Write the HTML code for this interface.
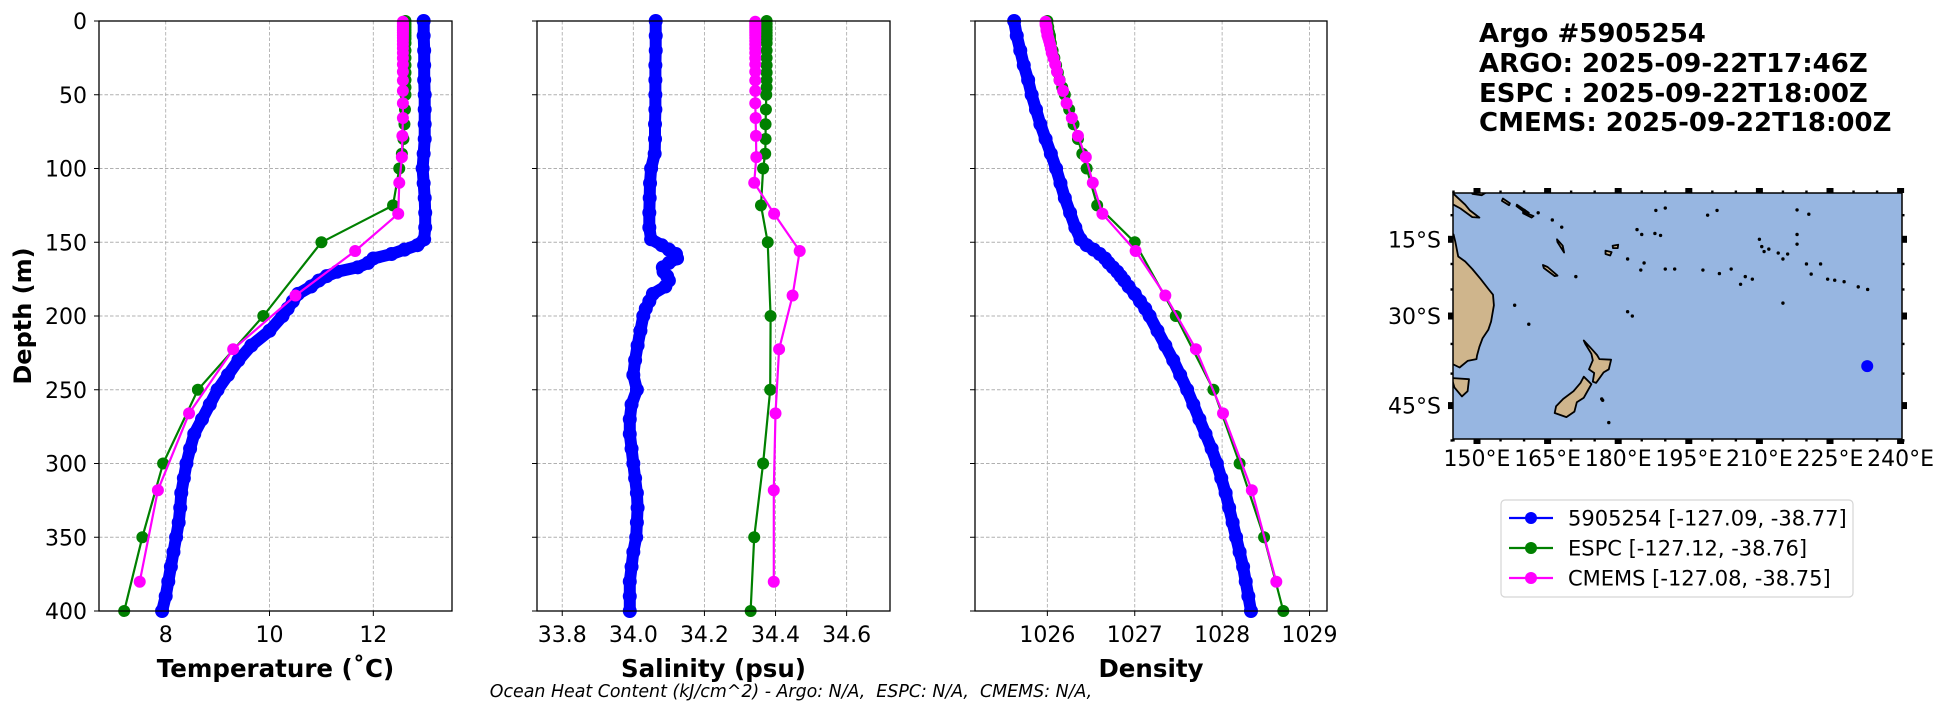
<!DOCTYPE html>
<html><head><meta charset="utf-8">
<style>
html,body{margin:0;padding:0;background:#fff;}
svg{display:block;font-family:"DejaVu Sans","Liberation Sans",sans-serif;}
</style></head>
<body>
<svg id="fig" width="1953" height="712" viewBox="0 0 1953 712" xmlns="http://www.w3.org/2000/svg">
<text x="1479" y="42" font-size="26" font-weight="bold">Argo #5905254</text>
<text x="1479" y="72" font-size="26" font-weight="bold">ARGO: 2025-09-22T17:46Z</text>
<text x="1479" y="102" font-size="26" font-weight="bold">ESPC : 2025-09-22T18:00Z</text>
<text x="1479" y="131" font-size="26" font-weight="bold">CMEMS: 2025-09-22T18:00Z</text>
<text x="791" y="697" font-size="17.4" font-style="italic" text-anchor="middle" style="white-space:pre">Ocean Heat Content (kJ/cm^2) - Argo: N/A,  ESPC: N/A,  CMEMS: N/A,</text>
<text transform="translate(31,316) rotate(-90)" font-size="24" font-weight="bold" text-anchor="middle">Depth (m)</text>
</svg>
<script>
// ---------- data ----------
const depthTicks = [0,50,100,150,200,250,300,350,400];
const tempTicks = [8,10,12];
const salTicks = [33.8,34.0,34.2,34.4,34.6];
const densTicks = [1026,1027,1028,1029];

const argoDepth = [0,10,20,30,40,50,60,70,80,90,100,110,120,130,140,148,152,155,158,161,164,167,170,173,176,180,185,190,195,200,210,220,230,240,250,260,270,280,290,300,310,320,330,340,350,360,370,380,390,400];
const argoTemp  = [12.97,12.97,12.98,12.98,12.98,12.99,12.99,12.99,12.99,12.97,12.95,12.97,12.99,13.0,13.0,12.98,12.85,12.6,12.35,12.0,11.9,11.7,11.3,11.1,10.95,10.8,10.55,10.45,10.35,10.25,10.0,9.65,9.4,9.2,9.0,8.85,8.7,8.55,8.47,8.4,8.35,8.3,8.28,8.25,8.2,8.15,8.1,8.05,8.0,7.93];
const argoSal   = [34.063,34.063,34.063,34.062,34.062,34.062,34.062,34.061,34.061,34.06,34.05,34.047,34.046,34.045,34.045,34.05,34.08,34.1,34.12,34.123,34.1,34.083,34.085,34.095,34.1,34.09,34.055,34.045,34.035,34.028,34.02,34.012,34.005,34.0,34.01,33.995,33.99,33.99,33.995,34.0,34.005,34.01,34.012,34.01,34.008,34.0,33.995,33.99,33.99,33.99];
const argoDens  = [1025.62,1025.65,1025.69,1025.73,1025.78,1025.82,1025.87,1025.92,1025.98,1026.04,1026.1,1026.15,1026.2,1026.26,1026.32,1026.38,1026.45,1026.53,1026.6,1026.66,1026.7,1026.75,1026.8,1026.84,1026.88,1026.93,1027.0,1027.06,1027.12,1027.17,1027.26,1027.35,1027.44,1027.52,1027.6,1027.67,1027.74,1027.81,1027.88,1027.94,1027.99,1028.04,1028.08,1028.12,1028.16,1028.2,1028.24,1028.27,1028.3,1028.33];

const espcDepth = [0,2,4,6,8,10,12,15,20,25,30,35,40,45,50,60,70,80,90,100,125,150,200,250,300,350,400];
const espcTemp  = [12.62,12.62,12.62,12.62,12.62,12.62,12.62,12.62,12.62,12.62,12.62,12.62,12.62,12.62,12.62,12.61,12.6,12.58,12.55,12.5,12.38,11.0,9.88,8.62,7.95,7.55,7.2];
const espcSal   = [34.375,34.375,34.375,34.375,34.375,34.375,34.375,34.375,34.375,34.375,34.375,34.375,34.375,34.375,34.374,34.373,34.372,34.372,34.371,34.365,34.359,34.378,34.386,34.385,34.365,34.34,34.33];
const espcDens  = [1026.0,1026.0,1026.01,1026.01,1026.02,1026.03,1026.03,1026.04,1026.06,1026.08,1026.1,1026.12,1026.14,1026.17,1026.2,1026.25,1026.3,1026.35,1026.4,1026.45,1026.57,1027.0,1027.47,1027.9,1028.2,1028.48,1028.7];

const cmemsDepth = [0.5,1.5,2.6,3.8,5.1,6.4,7.9,9.6,11.4,13.5,15.8,18.5,21.6,25.2,29.4,34.4,40.3,47.4,55.8,65.8,77.9,92.3,109.7,130.7,155.9,186.1,222.5,266.0,318.1,380.2];
const cmemsTemp  = [12.57,12.57,12.57,12.57,12.57,12.57,12.57,12.57,12.57,12.57,12.57,12.57,12.57,12.57,12.57,12.57,12.57,12.57,12.57,12.57,12.56,12.55,12.5,12.48,11.65,10.5,9.3,8.45,7.85,7.5];
const cmemsSal   = [34.343,34.343,34.343,34.343,34.343,34.343,34.343,34.343,34.343,34.343,34.343,34.343,34.343,34.343,34.343,34.343,34.343,34.343,34.343,34.344,34.345,34.346,34.34,34.396,34.468,34.448,34.41,34.40,34.395,34.395];
const cmemsDens  = [1025.98,1025.98,1025.98,1025.99,1025.99,1025.99,1026.0,1026.0,1026.01,1026.02,1026.03,1026.04,1026.05,1026.07,1026.09,1026.11,1026.14,1026.18,1026.22,1026.28,1026.35,1026.44,1026.52,1026.63,1027.01,1027.35,1027.7,1028.01,1028.34,1028.62];

const mapLonTicks = [150,165,180,195,210,225,240];
const mapLatTicks = [-15,-30,-45];
const floatLon = [232.91];
const floatLat = [-38.77];

// ---------- drawing ----------
const NS = "http://www.w3.org/2000/svg";
const svg = document.getElementById('fig');
function mk(tag, attrs, parent){
  const e = document.createElementNS(NS, tag);
  for (const k in attrs) e.setAttribute(k, attrs[k]);
  (parent||svg).appendChild(e);
  return e;
}
const Y0 = 21, Y1 = 611;
const yScale = d => Y0 + (d/400)*(Y1-Y0);

const panels = [
  {name:'temperature', x0:99, x1:452, min:6.715, max:13.516, ticks:tempTicks, fmt:v=>String(v), label:'Temperature (˚C)',
   series:[[argoDepth,argoTemp],[espcDepth,espcTemp],[cmemsDepth,cmemsTemp]], showY:true},
  {name:'salinity', x0:537, x1:890, min:33.729, max:34.722, ticks:salTicks, fmt:v=>v.toFixed(1), label:'Salinity (psu)',
   series:[[argoDepth,argoSal],[espcDepth,espcSal],[cmemsDepth,cmemsSal]], showY:false},
  {name:'density', x0:975, x1:1327, min:1025.172, max:1029.2, ticks:densTicks, fmt:v=>String(v), label:'Density',
   series:[[argoDepth,argoDens],[espcDepth,espcDens],[cmemsDepth,cmemsDens]], showY:false}
];
const colors = ['#0000ff','#008000','#ff00ff'];
const seriesNames = ['argo','espc','cmems'];

panels.forEach(p=>{
  const xs = v => p.x0 + (v-p.min)/(p.max-p.min)*(p.x1-p.x0);
  const g = mk('g',{});
  
  
  p.ticks.forEach(t=>{
    const x = xs(t);
    const l = mk('line',{x1:x,x2:x,y1:Y0,y2:Y1,stroke:'#b0b0b0','stroke-width':0.9,'stroke-dasharray':'3.5,2'},g);
    
    
    const tk = mk('line',{x1:x,x2:x,y1:Y1,y2:Y1+5,stroke:'#000','stroke-width':1},g);
    
    
    const tl = mk('text',{x:x,y:Y1+31,'font-size':22,'text-anchor':'middle'},g);
    tl.textContent = p.fmt(t);
    
    
  });
  depthTicks.forEach(d=>{
    const y = yScale(d);
    if (d>0 && d<400){
      const l = mk('line',{x1:p.x0,x2:p.x1,y1:y,y2:y,stroke:'#b0b0b0','stroke-width':0.9,'stroke-dasharray':'3.5,2'},g);
      
      
    }
    const tk = mk('line',{x1:p.x0-5,x2:p.x0,y1:y,y2:y,stroke:'#000','stroke-width':1},g);
    
    
    if (p.showY){
      const tl = mk('text',{x:p.x0-12,y:y+8,'font-size':22,'text-anchor':'end'},g);
      tl.textContent = String(d);
      
      
    }
  });
  const clip = mk('clipPath',{id:'clip-'+p.name},g);
  mk('rect',{x:p.x0-8,y:Y0-8,width:p.x1-p.x0+16,height:Y1-Y0+16},clip);
  const sg = mk('g',{'clip-path':'url(#clip-'+p.name+')'},g);
  p.series.forEach((s,i)=>{
    const [ds,vs] = s;
    const pts = ds.map((d,j)=> xs(vs[j]).toFixed(1)+','+yScale(d).toFixed(1)).join(' ');
    const pl = mk('polyline',{points:pts,fill:'none',stroke:colors[i],'stroke-width': i===0?12:2.2,'stroke-linejoin':'round','stroke-linecap':'round'},sg);
    
    
    ds.forEach((d,j)=>{
      const c = mk('circle',{cx:xs(vs[j]),cy:yScale(d),r:i===0?7:6,fill:colors[i]},sg);
      
      
    });
  });
  const fr = mk('rect',{x:p.x0,y:Y0,width:p.x1-p.x0,height:Y1-Y0,fill:'none',stroke:'#000','stroke-width':1.3},g);
  
  
  const al = mk('text',{x:(p.x0+p.x1)/2,y:677,'font-size':24.5,'font-weight':'bold','text-anchor':'middle'},g);
  al.textContent = p.label;
  
  
});

// ---------- map (Mercator) ----------
const MX0=1453, MX1=1902, MY0=193, MY1=439;
const K = 269.7;
const merc = lat => Math.log(Math.tan(Math.PI/4 + Math.abs(lat)*Math.PI/360));
const lonX = lon => 1477 + (lon-150)*(70.6/15);
const latY = lat => 239.3 + (merc(lat)-merc(15))*K;
const mg = mk('g',{});


const cp = mk('clipPath',{id:'mapclip'},mg);
mk('rect',{x:MX0,y:MY0,width:MX1-MX0,height:MY1-MY0},cp);
const ocean = mk('rect',{x:MX0,y:MY0,width:MX1-MX0,height:MY1-MY0,fill:'#97b6e1'},mg);


const land = mk('g',{'clip-path':'url(#mapclip)'},mg);
function poly(coords, name){
  const pts = coords.map(c=>lonX(c[0]).toFixed(1)+','+latY(c[1]).toFixed(1)).join(' ');
  const p = mk('polygon',{points:pts,fill:'#cfb58c',stroke:'#000','stroke-width':1.8,'stroke-linejoin':'round'},land);
  
  
}
poly([[140,-10],[145,-14],[145.4,-15.5],[146,-18.5],[147.5,-19.5],[149,-21],[150.8,-23],[152.5,-25],[153.4,-26],[153.6,-28],[153,-31],[152.4,-32.5],[151.2,-34],[150.5,-35.5],[150,-37],[149.9,-37.6],[148,-37.9],[146.3,-39],[145,-38.5],[140,-38]],'australia');
poly([[144.6,-40.7],[148.3,-40.9],[148,-42.8],[146.8,-43.6],[145.2,-42.2]],'tasmania');
poly([[140,-5],[145,-5.5],[147.5,-7.8],[148.5,-9],[150.5,-10.5],[149,-10.4],[146.5,-8.6],[145,-7.8],[140,-8]],'papua-new-guinea');
poly([[149,-5.5],[151,-5.8],[152.3,-5],[152,-4.6],[150,-5.2]],'new-britain');
poly([[172.7,-34.4],[174.5,-36],[175.5,-36.9],[176,-37.6],[178.5,-37.7],[178,-39.3],[176.9,-39.8],[175.3,-41.5],[174.6,-41.3],[174.9,-39.9],[173.8,-39.3],[174.6,-37.8],[174.3,-36.7],[173,-35]],'new-zealand-north');
poly([[172.7,-40.5],[174.3,-41.7],[173.3,-43],[172.7,-43.8],[171.2,-44.5],[170.7,-45.9],[169,-46.7],[166.5,-46.1],[166.8,-45.1],[168.3,-44],[170.5,-42.8],[172,-41.5]],'new-zealand-south');
poly([[164,-20.2],[165,-20.6],[167.1,-22.3],[166.5,-22.4],[164.2,-20.8]],'new-caledonia');
poly([[155.5,-6.5],[157,-7.5],[156.8,-7.9],[155.3,-7]],'solomon-islands');
poly([[158.5,-7.8],[161,-9.5],[160.7,-9.8],[158.4,-8.1]],'solomon-islands-2');
poly([[159.8,-9.3],[162,-10.2],[161.6,-10.5],[159.8,-9.6]],'solomon-islands-3');
poly([[167,-15],[168.2,-16.3],[168.5,-17.7],[167.1,-15.6]],'vanuatu');
poly([[177.3,-17.3],[178.6,-17.6],[178.3,-18.3],[177.3,-18]],'fiji');
poly([[178.8,-16.3],[180,-16.1],[179.9,-16.8],[178.9,-16.8]],'fiji-2');
const islandDots = [[160,-9],[163,-9.5],[166,-11],[168,-12.5],[182,-19],[184.8,-21.2],[185.5,-19.8],[187.8,-13.8],[189,-14.2],[188,-9],[190,-8.5],[185,-14],[184,-13],[199,-10],[201,-9],[210,-15],[210.5,-16.5],[211,-17.5],[212,-17],[214,-17.8],[215,-19],[216,-18],[218,-16],[218,-14],[220,-20],[221,-22],[223,-20],[224.5,-23],[226,-23.2],[228,-23.5],[231,-24.5],[233,-25],[218,-8.9],[220.5,-9.8],[215,-27.6],[198,-21.2],[201.5,-21.9],[204,-21],[207,-22.5],[190,-21],[171,-22.5],[161,-31.5],[158,-28],[183,-30],[182,-29.2],[176.5,-44],[176.7,-44.2],[166,-50.5],[178,-47.5],[192,-21],[208.5,-23],[206,-24]];
islandDots.forEach(p=>{
  const c = mk('circle',{cx:lonX(p[0]),cy:latY(p[1]),r:1.7,fill:'#000'},land);
  
  
});
const mf = mk('rect',{x:MX0,y:MY0,width:MX1-MX0,height:MY1-MY0,fill:'none',stroke:'#000','stroke-width':1.5},mg);


for (let lon=145; lon<=240; lon+=5){
  const x = lonX(lon);
  const major = mapLonTicks.includes(lon);
  [MY0, MY1].forEach(yy=>{
    const r = major ? mk('rect',{x:x-3.5,y:yy===MY0?yy-5:yy,width:7,height:5,fill:'#000'},mg)
                    : mk('rect',{x:x-1.2,y:yy===MY0?yy-2.5:yy,width:2.4,height:2.5,fill:'#000'},mg);
    
    
  });
}
mapLonTicks.forEach(lon=>{
  const t = mk('text',{x:lonX(lon),y:466,'font-size':22,'text-anchor':'middle'},mg);
  t.textContent = lon+'°E';
  
  
});
for (let lat=-10; lat>=-50; lat-=5){
  const y = latY(lat);
  const major = mapLatTicks.includes(lat);
  [MX0, MX1].forEach(xx=>{
    const r = major ? mk('rect',{x:xx===MX0?xx-5:xx,y:y-3.5,width:5,height:7,fill:'#000'},mg)
                    : mk('rect',{x:xx===MX0?xx-2.5:xx,y:y-1.2,width:2.5,height:2.4,fill:'#000'},mg);
    
    
  });
}
mapLatTicks.forEach(lat=>{
  const y = latY(lat);
  const t = mk('text',{x:MX0-12,y:y+8,'font-size':22,'text-anchor':'end'},mg);
  t.textContent = Math.abs(lat)+'°S';
  
  
});
floatLon.forEach((lon,i)=>{
  const c = mk('circle',{cx:lonX(lon),cy:latY(floatLat[i]),r:6,fill:'#0000ff'},mg);
  
  
});

// ---------- legend ----------
const lg = mk('g',{});


const lb = mk('rect',{x:1501,y:500,width:352,height:97,rx:4,fill:'#fff',stroke:'#d5d5d5','stroke-width':1.2},lg);


const legendLabels = ['5905254 [-127.09, -38.77]','ESPC [-127.12, -38.76]','CMEMS [-127.08, -38.75]'];
legendLabels.forEach((txt,i)=>{
  const y = 518 + i*30;
  const e = mk('g',{},lg);
  
  
  mk('line',{x1:1509,x2:1553,y1:y,y2:y,stroke:colors[i],'stroke-width':2.2},e);
  mk('circle',{cx:1531,cy:y,r:6,fill:colors[i]},e);
  const t = mk('text',{x:1568,y:y+7.5,'font-size':21},e);
  t.textContent = txt;
});
</script>
</body></html>
